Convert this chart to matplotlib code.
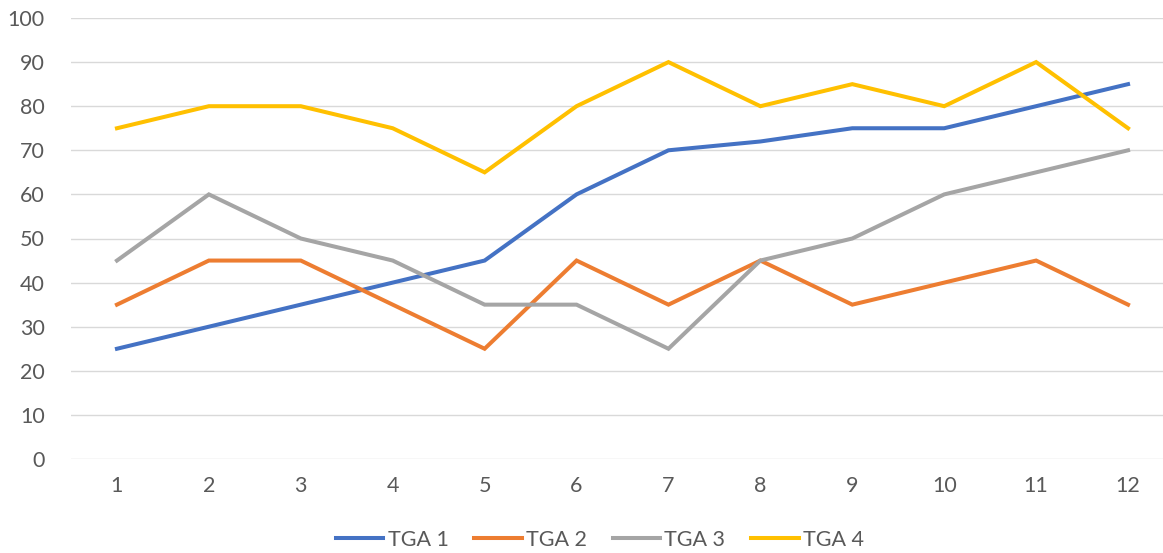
import matplotlib.pyplot as plt

plt.rcParams['font.family'] = ['Lato', 'DejaVu Sans']

x_labels = [str(i) for i in range(1, 13)]
tga1 = [25, 30, 35, 40, 45, 60, 70, 72, 75, 75, 80, 85]
tga2 = [35, 45, 45, 35, 25, 45, 35, 45, 35, 40, 45, 35]
tga3 = [45, 60, 50, 45, 35, 35, 25, 45, 50, 60, 65, 70]
tga4 = [75, 80, 80, 75, 65, 80, 90, 80, 85, 80, 90, 75]
series = [("TGA 1", tga1, "#4472C4"), ("TGA 2", tga2, "#ED7D31"),
          ("TGA 3", tga3, "#A5A5A5"), ("TGA 4", tga4, "#FFC000")]

fig = plt.figure(figsize=(11.63, 5.53), dpi=100)
ax = fig.add_axes([71/1163, 1 - 459/553, 1103/1163, 441/553])

xs = range(len(x_labels))
for name, vals, col in series:
    ax.plot(xs, vals, color=col, lw=2.9, label=name, solid_joinstyle='miter')

ax.set_xlim(-0.5, len(x_labels) - 0.5)
ax.set_ylim(0, 100)
ax.set_yticks(range(0, 101, 10))
ax.set_xticks(list(xs))
ax.set_xticklabels(x_labels)
ax.grid(axis='y', color='#D9D9D9', lw=1)
ax.set_axisbelow(True)
for s in ax.spines.values():
    s.set_visible(False)
ax.tick_params(length=0, labelsize=15.5, colors='#595959', pad=12)
ax.tick_params(axis='y', pad=19)

fig.legend(loc='center', bbox_to_anchor=(600/1163, 1 - 540/553), ncol=4,
           frameon=False, fontsize=15.5, labelcolor='#595959',
           handlelength=2.2, columnspacing=1.2, handletextpad=0.2)

fig.savefig('out.png', dpi=100)
